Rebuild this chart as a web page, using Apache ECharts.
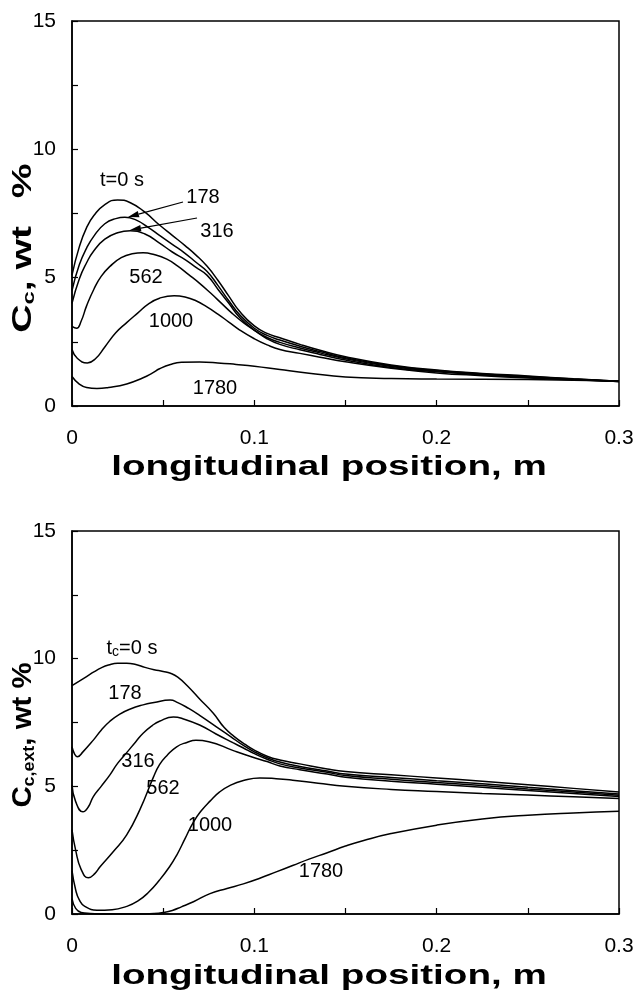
<!DOCTYPE html>
<html>
<head>
<meta charset="utf-8">
<script src="https://cdn.jsdelivr.net/npm/echarts@6/dist/echarts.min.js"></script>
<style>
  html, body { margin: 0; padding: 0; background: #fff; }
  #chart { width: 637px; height: 991px; }
</style>
</head>
<body>
<div id="chart"></div>
<script>
// upper panel: C_c (wt %) against longitudinal position (m), one curve per time
const topT0 = [[0, 5.1], [0.004, 6.2], [0.008, 6.95], [0.012, 7.42], [0.018, 7.85], [0.025, 8.03], [0.032, 7.92], [0.04, 7.55], [0.048, 7.05], [0.055, 6.65], [0.062, 6.25], [0.068, 5.88], [0.074, 5.45], [0.08, 4.9], [0.086, 4.28], [0.092, 3.68], [0.1, 3.12], [0.107, 2.83], [0.114, 2.66], [0.125, 2.4], [0.136, 2.17], [0.15, 1.92], [0.175, 1.6], [0.2, 1.4], [0.225, 1.27], [0.25, 1.17], [0.275, 1.06], [0.3, 0.96]]
const topT178 = [[0, 4.5], [0.004, 5.5], [0.008, 6.15], [0.012, 6.62], [0.018, 7.1], [0.024, 7.3], [0.029, 7.35], [0.035, 7.25], [0.042, 6.95], [0.048, 6.65], [0.055, 6.3], [0.062, 5.95], [0.068, 5.6], [0.074, 5.25], [0.08, 4.7], [0.086, 4.1], [0.092, 3.55], [0.1, 3.03], [0.107, 2.75], [0.114, 2.57], [0.125, 2.33], [0.136, 2.12], [0.15, 1.88], [0.175, 1.57], [0.2, 1.38], [0.225, 1.25], [0.25, 1.15], [0.275, 1.05], [0.3, 0.96]]
const topT316 = [[0, 4.0], [0.004, 4.95], [0.008, 5.58], [0.012, 6.05], [0.018, 6.5], [0.025, 6.75], [0.032, 6.83], [0.04, 6.7], [0.048, 6.35], [0.055, 6.0], [0.062, 5.7], [0.068, 5.4], [0.074, 5.1], [0.08, 4.55], [0.086, 4.0], [0.092, 3.45], [0.1, 2.96], [0.107, 2.67], [0.114, 2.48], [0.125, 2.26], [0.136, 2.07], [0.15, 1.84], [0.175, 1.54], [0.2, 1.36], [0.225, 1.23], [0.25, 1.13], [0.275, 1.04], [0.3, 0.95]]
const topT562 = [[0, 3.1], [0.0025, 3.03], [0.005, 3.3], [0.008, 3.9], [0.012, 4.55], [0.016, 5.05], [0.021, 5.45], [0.027, 5.78], [0.033, 5.93], [0.039, 5.97], [0.045, 5.9], [0.052, 5.72], [0.058, 5.45], [0.064, 5.12], [0.07, 4.78], [0.076, 4.4], [0.082, 4.0], [0.088, 3.6], [0.094, 3.25], [0.1, 2.95], [0.107, 2.62], [0.114, 2.4], [0.125, 2.19], [0.136, 2.01], [0.15, 1.79], [0.175, 1.5], [0.2, 1.33], [0.225, 1.21], [0.25, 1.12], [0.275, 1.03], [0.3, 0.95]]
const topT1000 = [[0, 2.2], [0.003, 1.85], [0.0084, 1.68], [0.013, 1.85], [0.018, 2.3], [0.024, 2.85], [0.03, 3.25], [0.036, 3.62], [0.042, 3.98], [0.048, 4.2], [0.056, 4.3], [0.062, 4.25], [0.068, 4.1], [0.074, 3.86], [0.08, 3.58], [0.086, 3.27], [0.092, 2.96], [0.1, 2.62], [0.107, 2.38], [0.114, 2.2], [0.125, 2.05], [0.136, 1.9], [0.15, 1.72], [0.175, 1.47], [0.2, 1.29], [0.225, 1.18], [0.25, 1.09], [0.275, 1.02], [0.3, 0.95]]
const topT1780 = [[0, 1.15], [0.004, 0.85], [0.008, 0.72], [0.0137, 0.68], [0.02, 0.72], [0.03, 0.86], [0.039, 1.1], [0.044, 1.28], [0.048, 1.45], [0.054, 1.62], [0.06, 1.7], [0.07, 1.71], [0.08, 1.68], [0.09, 1.62], [0.1, 1.55], [0.114, 1.42], [0.13, 1.28], [0.15, 1.13], [0.175, 1.07], [0.2, 1.05], [0.25, 1.03], [0.3, 0.97]]

// lower panel: C_c,ext (wt %)
const botT0 = [[0, 8.94], [0.004, 9.12], [0.008, 9.3], [0.012, 9.48], [0.016, 9.64], [0.02, 9.75], [0.025, 9.82], [0.03, 9.82], [0.035, 9.77], [0.04, 9.66], [0.045, 9.57], [0.05, 9.5], [0.054, 9.43], [0.058, 9.28], [0.0635, 8.92], [0.07, 8.42], [0.0775, 7.86], [0.0835, 7.3], [0.089, 6.95], [0.095, 6.64], [0.1, 6.42], [0.107, 6.18], [0.114, 6.03], [0.125, 5.88], [0.14, 5.68], [0.15, 5.58], [0.175, 5.45], [0.2, 5.33], [0.225, 5.2], [0.25, 5.06], [0.275, 4.92], [0.3, 4.78]]
const botT178 = [[0, 6.55], [0.0015, 6.25], [0.003, 6.16], [0.006, 6.35], [0.0117, 6.81], [0.016, 7.2], [0.0208, 7.55], [0.026, 7.82], [0.032, 8.03], [0.039, 8.19], [0.045, 8.28], [0.0538, 8.38], [0.058, 8.28], [0.064, 8.05], [0.07, 7.78], [0.079, 7.34], [0.087, 6.95], [0.094, 6.6], [0.1, 6.35], [0.107, 6.12], [0.114, 5.95], [0.125, 5.78], [0.14, 5.6], [0.15, 5.48], [0.175, 5.35], [0.2, 5.22], [0.225, 5.1], [0.25, 4.96], [0.275, 4.83], [0.3, 4.7]]
const botT316 = [[0, 5.05], [0.002, 4.4], [0.006, 4.0], [0.009, 4.2], [0.0117, 4.6], [0.016, 5.0], [0.0208, 5.45], [0.025, 5.9], [0.03, 6.32], [0.035, 6.75], [0.039, 7.08], [0.044, 7.38], [0.048, 7.55], [0.0556, 7.72], [0.062, 7.62], [0.07, 7.4], [0.079, 7.05], [0.0885, 6.7], [0.094, 6.5], [0.1, 6.28], [0.107, 6.06], [0.114, 5.88], [0.125, 5.72], [0.14, 5.55], [0.15, 5.42], [0.175, 5.28], [0.2, 5.15], [0.225, 5.03], [0.25, 4.9], [0.275, 4.78], [0.3, 4.65]]
const botT562 = [[0, 3.3], [0.002, 2.5], [0.005, 1.75], [0.009, 1.42], [0.0125, 1.58], [0.0154, 1.85], [0.0227, 2.45], [0.03, 3.1], [0.0373, 4.1], [0.0446, 5.35], [0.048, 5.85], [0.052, 6.2], [0.0574, 6.55], [0.063, 6.72], [0.068, 6.8], [0.075, 6.75], [0.0885, 6.4], [0.1, 6.12], [0.107, 5.97], [0.114, 5.8], [0.125, 5.65], [0.14, 5.48], [0.15, 5.36], [0.175, 5.2], [0.2, 5.08], [0.225, 4.96], [0.25, 4.84], [0.275, 4.72], [0.3, 4.6]]
const botT1000 = [[0, 1.7], [0.002, 0.95], [0.004, 0.55], [0.007, 0.3], [0.0137, 0.15], [0.022, 0.17], [0.03, 0.3], [0.036, 0.5], [0.042, 0.85], [0.048, 1.33], [0.0535, 1.85], [0.0574, 2.3], [0.062, 2.95], [0.0666, 3.6], [0.071, 4.05], [0.0757, 4.42], [0.081, 4.78], [0.087, 5.05], [0.094, 5.23], [0.103, 5.33], [0.112, 5.3], [0.121, 5.24], [0.135, 5.12], [0.15, 5.0], [0.175, 4.88], [0.2, 4.8], [0.225, 4.72], [0.25, 4.66], [0.275, 4.59], [0.3, 4.52]]
const botT1780 = [[0, 0.6], [0.002, 0.22], [0.005, 0.06], [0.01, 0.02], [0.02, 0.0], [0.035, 0.0], [0.045, 0.02], [0.05, 0.06], [0.055, 0.14], [0.06, 0.28], [0.0666, 0.48], [0.0757, 0.8], [0.085, 1.0], [0.094, 1.18], [0.103, 1.4], [0.112, 1.65], [0.121, 1.9], [0.13, 2.15], [0.14, 2.4], [0.15, 2.66], [0.16, 2.88], [0.175, 3.15], [0.2, 3.48], [0.225, 3.72], [0.25, 3.87], [0.275, 3.96], [0.3, 4.02]]

const timeLabels = ['178', '316', '562', '1000', '1780']

const FONT = '"Liberation Sans", Arial, Helvetica, sans-serif'

const chart = echarts.init(document.getElementById('chart'))

const axisX = (gridIndex) => ({
  type: 'value',
  gridIndex,
  min: 0,
  max: 0.3,
  interval: 0.1,
  axisLine: { lineStyle: { color: '#000', width: 1.5 } },
  axisTick: { inside: true, length: 6, lineStyle: { color: '#000', width: 1.2 } },
  minorTick: { show: true, splitNumber: 2, length: 6, lineStyle: { color: '#000', width: 1.2 } },
  splitLine: { show: false },
  axisLabel: { margin: 22, color: '#000', fontSize: 21, fontFamily: FONT }
})

const axisY = (gridIndex) => ({
  type: 'value',
  gridIndex,
  min: 0,
  max: 15,
  interval: 5,
  axisLine: { lineStyle: { color: '#000', width: 1.5 } },
  axisTick: { inside: true, length: 6, lineStyle: { color: '#000', width: 1.2 } },
  minorTick: { show: true, splitNumber: 2, length: 6, lineStyle: { color: '#000', width: 1.2 } },
  splitLine: { show: false },
  axisLabel: { margin: 16, color: '#000', fontSize: 21, fontFamily: FONT }
})

const curve = (data, idx) => ({
  type: 'line',
  xAxisIndex: idx,
  yAxisIndex: idx,
  data,
  showSymbol: false,
  smooth: 0.5,
  lineStyle: { color: '#000', width: 1.5 }
})

const label = (text, x, y) => ({
  type: 'text',
  x, y,
  style: { text, fill: '#000', font: '20px ' + FONT, align: 'center', verticalAlign: 'middle' }
})

// straight arrow with a filled head at (x2, y2)
const arrow = (x1, y1, x2, y2) => {
  const len = Math.hypot(x2 - x1, y2 - y1)
  const ux = (x2 - x1) / len, uy = (y2 - y1) / len
  const bx = x2 - ux * 11, by = y2 - uy * 11
  return [
    { type: 'line', shape: { x1, y1, x2: bx, y2: by }, style: { stroke: '#000', lineWidth: 1.2 } },
    { type: 'polygon', shape: { points: [[x2, y2], [bx - uy * 3.2, by + ux * 3.2], [bx + uy * 3.2, by - ux * 3.2]] }, style: { fill: '#000' } }
  ]
}

const xName = (y) => ({
  type: 'text',
  x: 329, y,
  scaleX: 1.38,
  style: { text: 'longitudinal position, m', fill: '#000', font: 'bold 28px ' + FONT, align: 'center', verticalAlign: 'middle' }
})

const option = {
  animation: false,
  backgroundColor: '#fff',
  grid: [
    { left: 72, top: 21, width: 547, height: 385, show: true, borderColor: '#000', borderWidth: 1.5 },
    { left: 72, top: 531, width: 547, height: 383, show: true, borderColor: '#000', borderWidth: 1.5 }
  ],
  xAxis: [axisX(0), axisX(1)],
  yAxis: [axisY(0), axisY(1)],
  series: [
    ...[topT0, topT178, topT316, topT562, topT1000, topT1780].map(d => curve(d, 0)),
    ...[botT0, botT178, botT316, botT562, botT1000, botT1780].map(d => curve(d, 1))
  ],
  graphic: [
    xName(467),
    xName(976),
    {
      type: 'text',
      x: 23, y: 248,
      rotation: Math.PI / 2,
      scaleX: 1.4,
      style: {
        text: '{m|C}{s|c}{m|, wt }{p|%}',
        fill: '#000',
        align: 'center',
        verticalAlign: 'middle',
        rich: {
          m: { font: 'bold 28px ' + FONT, lineHeight: 30 },
          s: { font: 'bold 17px ' + FONT, lineHeight: 14, verticalAlign: 'bottom' },
          p: { font: 'bold 28px ' + FONT, lineHeight: 30, padding: [0, 0, 0, 12] }
        }
      }
    },
    {
      type: 'text',
      x: 23, y: 735,
      rotation: Math.PI / 2,
      scaleX: 1.05,
      style: {
        text: '{m|C}{s|c,ext}{m|, wt %}',
        fill: '#000',
        align: 'center',
        verticalAlign: 'middle',
        rich: {
          m: { font: 'bold 28px ' + FONT, lineHeight: 30 },
          s: { font: 'bold 17px ' + FONT, lineHeight: 14, verticalAlign: 'bottom' }
        }
      }
    },
    label('t=0 s', 122, 180),
    label(timeLabels[0], 203, 197),
    label(timeLabels[1], 217, 231),
    label(timeLabels[2], 146, 277),
    label(timeLabels[3], 171, 321),
    label(timeLabels[4], 215, 388),
    ...arrow(183, 202, 128, 217),
    ...arrow(197, 218, 130, 230),
    {
      type: 'text',
      x: 132, y: 648,
      style: {
        text: '{m|t}{s|c}{m|=0 s}',
        fill: '#000',
        align: 'center',
        verticalAlign: 'middle',
        rich: {
          m: { font: '20px ' + FONT, lineHeight: 22 },
          s: { font: '14px ' + FONT, lineHeight: 10, verticalAlign: 'bottom' }
        }
      }
    },
    label(timeLabels[0], 125, 693),
    label(timeLabels[1], 138, 761),
    label(timeLabels[2], 163, 788),
    label(timeLabels[3], 210, 825),
    label(timeLabels[4], 321, 871)
  ]
}

chart.setOption(option)
</script>
</body>
</html>
